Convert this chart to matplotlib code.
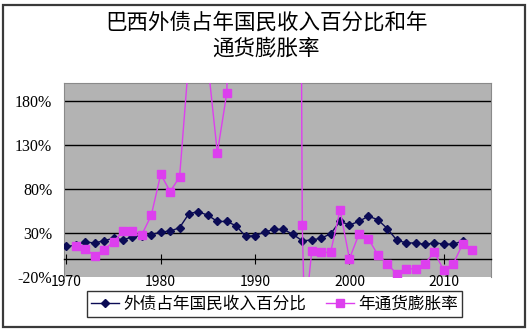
import matplotlib
matplotlib.use("Agg")
import matplotlib.pyplot as plt
from matplotlib.patches import Rectangle
from matplotlib.lines import Line2D

plt.rcParams['font.family'] = ['Noto Sans CJK SC', 'DejaVu Sans']

# External debt as % of gross national income, 1970-2012
debt_years = list(range(1970, 2013))
debt_pct = [14.7, 16, 19.7, 18.6, 21.2, 24, 22.3, 25.4, 27, 28,
            31, 32, 36, 52, 54, 50, 43, 43, 38, 26,
            27, 31, 34, 34, 28.5, 21, 22, 24, 29, 43,
            39, 43, 49, 45, 35, 22, 18.6, 18.6, 17, 18.6,
            17.5, 17, 21]

# Annual inflation rate (%), 1971-2013
infl_years = [1971, 1972, 1973, 1974, 1975, 1976, 1977, 1978, 1979,
              1980, 1981, 1982, 1983, 1984, 1985, 1986, 1987, 1988, 1989,
              1990, 1991, 1992, 1993, 1994, 1995, 1995.25, 1996, 1997, 1998, 1999,
              2000, 2001, 2002, 2003, 2004, 2005, 2006, 2007, 2008, 2009,
              2010, 2011, 2012, 2013]
infl_pct = [15.5, 12, 4, 11, 20, 31.8, 32.6, 28, 50,
            96.6, 76.8, 93.5, 230, 215, 222, 120.6, 188.7, 680, 1300,
            2700, 415, 970, 1996, 2240, 38.8, -70, 9.1, 7.9, 7.9, 55.9,
            0.7, 28.5, 23.5, 5.3, -5, -16.4, -10.7, -10.7, -5, 8.3,
            -12.6, -5, 17.4, 10.2]

title_lines = ["巴西外债占年国民收入百分比和年", "通货膨胀率"]
series_names = ["外债占年国民收入百分比", "年通货膨胀率"]
y_ticks = [-20, 30, 80, 130, 180]
x_ticks = [1970, 1980, 1990, 2000, 2010]

W, H = 528, 329
navy = "#0b0b55"
magenta = "#dd3fee"
serif = ['Liberation Serif', 'DejaVu Serif']

fig = plt.figure(figsize=(W / 100, H / 100), dpi=100)
fig.patch.set_facecolor("white")

# chart border
fig.patches.append(Rectangle((3 / W, 1 - 327 / H), 522 / W, 322 / H,
                             transform=fig.transFigure, fill=False,
                             edgecolor="#3a3a3a", linewidth=1.6))

ax = fig.add_axes([64 / W, 1 - 277 / H, (491 - 64) / W, (277 - 83) / H])
ax.set_facecolor("#b3b3b3")
ax.set_xlim(1969.75, 2015)
ax.set_ylim(-20, 200)

ax.set_yticks(y_ticks)
ax.set_yticklabels([f"{v}%" for v in y_ticks], fontfamily=serif, fontsize=11.5)
ax.tick_params(axis='y', length=0, pad=8.5)

ax.set_xticks(x_ticks)
ax.set_xticklabels([str(v) for v in x_ticks], fontfamily=serif, fontsize=11.5)
ax.get_xticklabels()[0].set_horizontalalignment('left')
ax.tick_params(axis='x', direction='inout', length=7, width=0.8, pad=8)

ax.grid(axis='y', color='black', linewidth=1.0)
ax.get_ygridlines()[0].set_visible(False)
ax.set_axisbelow(True)

for side in ('left', 'top', 'right'):
    ax.spines[side].set_color('#8a8a8a')
    ax.spines[side].set_linewidth(0.8)
ax.spines['bottom'].set_position(('data', 0))
ax.spines['bottom'].set_color('black')
ax.spines['bottom'].set_linewidth(1.0)

ax.plot(debt_years, debt_pct, color=navy, linewidth=1.0, marker='D',
        markersize=4.5, markerfacecolor=navy, markeredgecolor=navy, zorder=3)
ax.plot(infl_years, infl_pct, color=magenta, linewidth=1.0, marker='s',
        markersize=5.8, markerfacecolor=magenta, markeredgecolor=magenta, zorder=4)

fig.text(266 / W, 1 - 23 / H, title_lines[0], ha='center', va='center', fontsize=15.5)
fig.text(266 / W, 1 - 49 / H, title_lines[1], ha='center', va='center', fontsize=15.5)

handles = [
    Line2D([], [], color=navy, linewidth=1.0, marker='D', markersize=4.5,
           markerfacecolor=navy, markeredgecolor=navy),
    Line2D([], [], color=magenta, linewidth=1.0, marker='s', markersize=5.8,
           markerfacecolor=magenta, markeredgecolor=magenta),
]
leg = fig.legend(handles, series_names, loc='center',
                 bbox_to_anchor=(274.5 / W, 1 - 304 / H), ncol=2,
                 fontsize=12, frameon=True, fancybox=False, borderpad=0.25,
                 handlelength=1.7, handletextpad=0.25, columnspacing=1.2,
                 borderaxespad=0)
leg.get_frame().set_edgecolor('black')
leg.get_frame().set_linewidth(1.0)

fig.savefig("out.png", dpi=100)
